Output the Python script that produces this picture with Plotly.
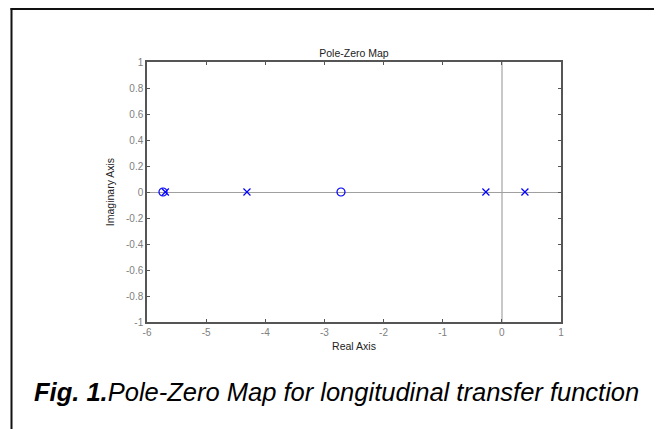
import plotly.graph_objects as go

pole_re = [-5.69, -4.31, -0.27, 0.39]
pole_im = [0, 0, 0, 0]
zero_re = [-5.73, -2.72]
zero_im = [0, 0]

x_ticks = [-6, -5, -4, -3, -2, -1, 0, 1]
x_labels = ["-6", "-5", "-4", "-3", "-2", "-1", "0", "1"]
y_ticks = [-1, -0.8, -0.6, -0.4, -0.2, 0, 0.2, 0.4, 0.6, 0.8, 1]
y_labels = ["-1", "-0.8", "-0.6", "-0.4", "-0.2", "0", "0.2", "0.4", "0.6", "0.8", "1"]

# page body has an 8px margin; positions below are in figure pixels
W, H = 662, 429
L, R, T, B = 139, 109, 54, 114.5
pw, ph = W - L - R, H - T - B

def px(x):
    return (x - L) / pw

def py(y):
    return (H - B - y) / ph

FONT = "Liberation Sans, Arial"

fig = go.Figure()
fig.add_trace(go.Scatter(x=zero_re, y=zero_im, mode="markers",
                         marker=dict(symbol="circle-open", size=8, color="#0000ff",
                                     line=dict(width=1.2, color="#0000ff")),
                         showlegend=False))
fig.add_trace(go.Scatter(x=pole_re, y=pole_im, mode="markers",
                         marker=dict(symbol="x-thin-open", size=7, color="#0000ff",
                                     line=dict(width=1.2, color="#0000ff")),
                         showlegend=False))

axis_common = dict(showgrid=False, ticks="inside", ticklen=3, tickcolor="#555555",
                   showline=True, linecolor="#555555", linewidth=1.5, mirror="ticks",
                   tickfont=dict(family=FONT, size=10, color="#808080"),
                   zeroline=True)

fig.update_xaxes(range=[-6, 1], tickvals=x_ticks, ticktext=x_labels,
                 zerolinecolor="#c8c8c8", zerolinewidth=2,
                 title=dict(text="Real Axis", font=dict(family=FONT, size=10.5, color="#222222"),
                            standoff=6),
                 **axis_common)
fig.update_yaxes(range=[-1, 1], tickvals=y_ticks, ticktext=y_labels,
                 zerolinecolor="#a0a0a0", zerolinewidth=1,
                 title=dict(text="Imaginary Axis", font=dict(family=FONT, size=10.5, color="#222222"),
                            standoff=9),
                 **axis_common)

fig.update_layout(
    width=W, height=H,
    margin=dict(l=L, r=R, t=T, b=B),
    paper_bgcolor="white", plot_bgcolor="white",
    title=dict(text="Pole-Zero Map", xref="paper", x=0.5, xanchor="center",
               y=1 - 45 / H, yanchor="middle",
               font=dict(family=FONT, size=10.5, color="#222222")),
    shapes=[
        dict(type="line", xref="paper", yref="paper", x0=px(2.5), x1=px(W), y0=py(1), y1=py(1),
             line=dict(color="#111111", width=2)),
        dict(type="line", xref="paper", yref="paper", x0=px(3.5), x1=px(3.5), y0=py(0), y1=py(H),
             line=dict(color="#111111", width=2)),
    ],
    annotations=[
        dict(text="<i><b>Fig. 1.</b>Pole-Zero Map for longitudinal transfer function</i>",
             xref="paper", yref="paper", x=px(23.5), y=py(385), xanchor="left", yanchor="middle",
             showarrow=False,
             font=dict(family=FONT, size=25.5, color="#000000")),
    ],
)

fig.write_html("out.html")
